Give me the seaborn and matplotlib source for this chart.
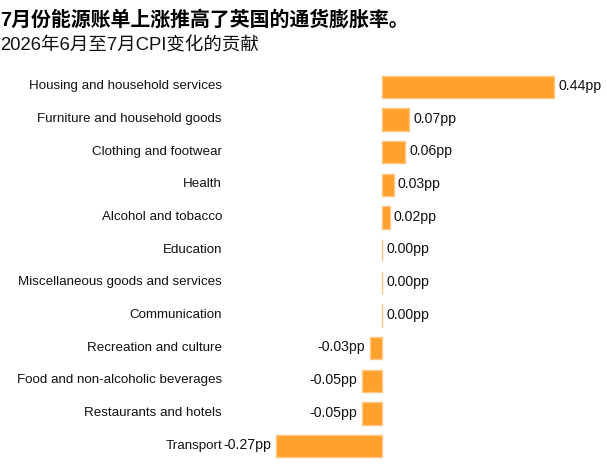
import matplotlib
matplotlib.use("Agg")
import matplotlib.pyplot as plt
import matplotlib.transforms as mtransforms
import seaborn as sns
import pandas as pd

categories = [
    "Housing and household services",
    "Furniture and household goods",
    "Clothing and footwear",
    "Health",
    "Alcohol and tobacco",
    "Education",
    "Miscellaneous goods and services",
    "Communication",
    "Recreation and culture",
    "Food and non-alcoholic beverages",
    "Restaurants and hotels",
    "Transport",
]
values = [0.44, 0.07, 0.06, 0.03, 0.02, 0.00, 0.00, 0.00, -0.03, -0.05, -0.05, -0.27]
value_labels = ["0.44pp", "0.07pp", "0.06pp", "0.03pp", "0.02pp", "0.00pp", "0.00pp",
                "0.00pp", "-0.03pp", "-0.05pp", "-0.05pp", "-0.27pp"]

title = "7月份能源账单上涨推高了英国的通货膨胀率。"
subtitle = "2026年6月至7月CPI变化的贡献"

sns.set_theme(style="white")
plt.rcParams["font.family"] = ["Liberation Sans", "Noto Sans CJK SC", "DejaVu Sans"]

df = pd.DataFrame({"category": categories, "value": values})

W, H = 607, 468
fig = plt.figure(figsize=(W / 100, H / 100), dpi=100)
ax_left, ax_right = 230, 600
ax_top, ax_bot = 70.5, 462.5
ax = fig.add_axes([ax_left / W, (H - ax_bot) / H, (ax_right - ax_left) / W, (ax_bot - ax_top) / H])

bar_color = "#FFA12D"
sns.barplot(data=df, x="value", y="category", orient="h", color=bar_color,
            saturation=1, width=0.68, edgecolor="#FFC783", linewidth=1.0, ax=ax)

ppu = 391.0
zero_px = 382
ax.set_xlim((ax_left - zero_px) / ppu, (ax_right - zero_px) / ppu)
ax.set_ylim(len(categories) - 0.5, -0.5)

for i, (v, lab) in enumerate(zip(values, value_labels)):
    if v < 0:
        ax.annotate(lab, (v, i), xytext=(-3.5, 0.7), textcoords="offset points",
                    ha="right", va="center", fontsize=10.2, color="#111111")
    else:
        ax.annotate(lab, (v, i), xytext=(3, 0.7), textcoords="offset points",
                    ha="left", va="center", fontsize=10.2, color="#111111")

ax.set_xlabel("")
ax.set_ylabel("")
ax.set_xticks([])
ax.tick_params(axis="y", length=0, pad=5.8, labelsize=9.6, labelcolor="#111111")
shift = mtransforms.ScaledTranslation(0, 2.0 / 100, fig.dpi_scale_trans)
for t in ax.get_yticklabels():
    t.set_transform(t.get_transform() + shift)
for s in ax.spines.values():
    s.set_visible(False)

fig.text(0.0, 1 - 19 / H, title, fontsize=14.35, fontweight="bold", ha="left", va="center",
         color="#000000")
fig.text(0.0, 1 - 46 / H, subtitle, fontsize=13.3, ha="left", va="center", color="#111111")

fig.savefig("out.png", dpi=100)
